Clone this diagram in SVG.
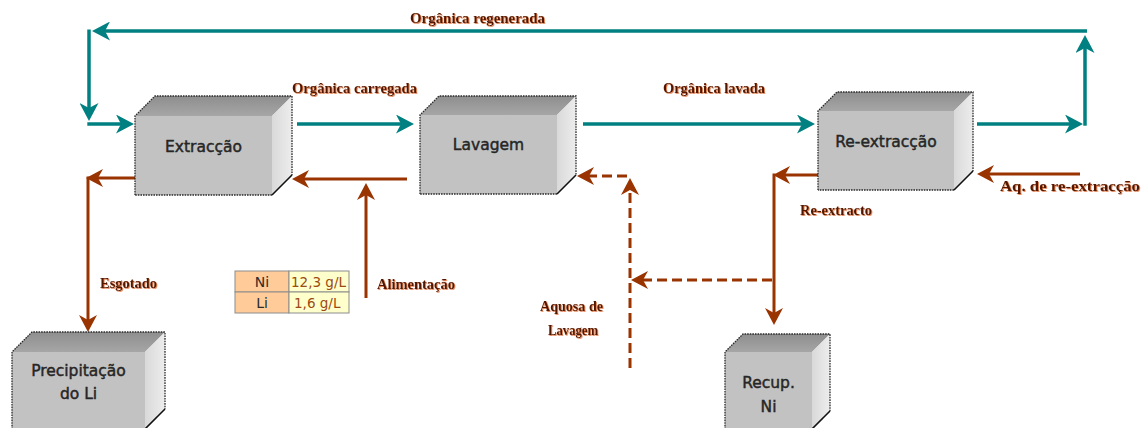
<svg xmlns="http://www.w3.org/2000/svg" width="1147" height="428" viewBox="0 0 1147 428">
  <defs>
    <style>
      .top { fill: url(#topShade); }
      .side { fill: url(#sideShade); }
      .front { fill: #c2c2c2; }
      .outline { fill: none; stroke: #2a2a2a; stroke-width: 1.3; stroke-dasharray: 1.6 1; }
      .edge { fill: none; stroke: #111; stroke-width: 1.6; }
      .boxText { font-family: "DejaVu Sans", Verdana, sans-serif; font-size: 15.5px; fill: #262626; stroke: #262626; stroke-width: 0.45; text-anchor: middle; }
      .teal { fill: none; stroke: #008080; stroke-width: 3.5; marker-end: url(#tealHead); }
      .brown { fill: none; stroke: #993300; stroke-width: 3; marker-end: url(#brownHead); }
      .dashed { stroke-dasharray: 10 5; }
      .label { font-family: "Liberation Serif", "Times New Roman", serif; font-weight: bold; font-size: 14px; fill: #521600; filter: url(#glow); }
      .cellKey { fill: #ffcc99; stroke: #8c8c8c; stroke-width: 1; }
      .cellVal { fill: #ffffcc; stroke: #8c8c8c; stroke-width: 1; }
      .keyText { font-family: "DejaVu Sans", Verdana, sans-serif; font-size: 14px; fill: #2b2b2b; text-anchor: middle; }
      .valText { font-family: "DejaVu Sans", Verdana, sans-serif; font-size: 13.5px; fill: #9a4a12; }
    </style>
    <linearGradient id="topShade" x1="0" y1="0" x2="0" y2="1">
      <stop offset="0" stop-color="#8e8e8e"/>
      <stop offset="1" stop-color="#a6a6a6"/>
    </linearGradient>
    <linearGradient id="sideShade" x1="0" y1="0" x2="1" y2="0">
      <stop offset="0" stop-color="#d9d9d9"/>
      <stop offset="1" stop-color="#ededed"/>
    </linearGradient>
    <filter id="glow" x="-5%" y="-30%" width="110%" height="160%">
      <feDropShadow dx="0.8" dy="0.8" stdDeviation="0.6" flood-color="#e0703a" flood-opacity="1"/>
    </filter>
    <marker id="tealHead" viewBox="0 0 18 19" refX="12" refY="9.5" markerWidth="18" markerHeight="19" markerUnits="userSpaceOnUse" orient="auto">
      <path d="M18,9.5 L0,0 L5,9.5 L0,19 Z" fill="#008080"/>
    </marker>
    <marker id="brownHead" viewBox="0 0 17 18" refX="11" refY="9" markerWidth="17" markerHeight="18" markerUnits="userSpaceOnUse" orient="auto">
      <path d="M17,9 L0,0 L5,9 L0,18 Z" fill="#993300"/>
    </marker>
  </defs>

  <rect width="1147" height="428" fill="#ffffff"/>

  <!-- flows between the units -->
  <g id="connectors">
    <!-- organic loop (teal) -->
    <path class="teal" d="M1087,31 H98"/>
    <path class="teal" d="M89,29.5 V115"/>
    <path class="teal" d="M87.3,124 H128"/>
    <path class="teal" d="M297,124 H408"/>
    <path class="teal" d="M583,124 H809"/>
    <path class="teal" d="M977,124 H1077"/>
    <path class="teal" d="M1085,125.7 V41"/>

    <!-- aqueous streams (brown) -->
    <path class="brown" d="M135,178 H92"/>
    <path class="brown" d="M88,176.5 V326"/>
    <path class="brown" d="M407,179 H298"/>
    <path class="brown" d="M366,298 V189"/>
    <path class="brown dashed" d="M627,176 H583"/>
    <path class="brown dashed" d="M630,368 V184"/>
    <path class="brown dashed" d="M772,280 H637"/>
    <path class="brown" d="M818,175 H779"/>
    <path class="brown" d="M774,173.5 V319"/>
    <path class="brown" d="M1080,174 H983"/>
  </g>

  <!-- stream labels -->
  <g id="labels">
    <text class="label" x="410" y="23" textLength="135" lengthAdjust="spacingAndGlyphs">Orgânica regenerada</text>
    <text class="label" x="292" y="93" textLength="125" lengthAdjust="spacingAndGlyphs">Orgânica carregada</text>
    <text class="label" x="663" y="93" textLength="102" lengthAdjust="spacingAndGlyphs">Orgânica lavada</text>
    <text class="label" x="100" y="288" textLength="57" lengthAdjust="spacingAndGlyphs">Esgotado</text>
    <text class="label" x="377" y="289" textLength="78" lengthAdjust="spacingAndGlyphs">Alimentação</text>
    <text class="label" x="540" y="311" textLength="63" lengthAdjust="spacingAndGlyphs">Aquosa de</text>
    <text class="label" x="548" y="335" textLength="50" lengthAdjust="spacingAndGlyphs">Lavagem</text>
    <text class="label" x="800" y="215" textLength="72" lengthAdjust="spacingAndGlyphs">Re-extracto</text>
    <text class="label" x="1000" y="191" textLength="140" lengthAdjust="spacingAndGlyphs">Aq. de re-extracção</text>
  </g>

  <!-- feed composition -->
  <g id="feed-table">
    <rect class="cellKey" x="235" y="271" width="54" height="21"/>
    <rect class="cellVal" x="289" y="271" width="60" height="21"/>
    <rect class="cellKey" x="235" y="292" width="54" height="21"/>
    <rect class="cellVal" x="289" y="292" width="60" height="21"/>
    <text class="keyText" x="262" y="287">Ni</text>
    <text class="valText" x="291" y="287">12,3 g/L</text>
    <text class="keyText" x="262" y="308">Li</text>
    <text class="valText" x="294" y="308">1,6 g/L</text>
  </g>

  <!-- process units drawn as blocks -->
  <g id="extraccao">
    <path class="top" d="M135,116 L155,96 L292,96 L272,116 Z"/>
    <path class="side" d="M272,116 L292,96 L292,175 L272,195 Z"/>
    <rect class="front" x="135" y="116" width="137" height="79"/>
    <path class="outline" d="M135,195 L135,116 L155,96 L292,96 L292,175"/>
    <path class="outline" d="M272,195 L135,195"/>
    <path class="edge" d="M292,175 L272,195"/>
    <text class="boxText" x="203.5" y="152">Extracção</text>
  </g>

  <g id="lavagem">
    <path class="top" d="M420,115 L439,96 L576,96 L557,115 Z"/>
    <path class="side" d="M557,115 L576,96 L576,175 L557,194 Z"/>
    <rect class="front" x="420" y="115" width="137" height="79"/>
    <path class="outline" d="M420,194 L420,115 L439,96 L576,96 L576,175"/>
    <path class="outline" d="M557,194 L420,194"/>
    <path class="edge" d="M576,175 L557,194"/>
    <text class="boxText" x="488.5" y="150">Lavagem</text>
  </g>

  <g id="re-extraccao">
    <path class="top" d="M818,111 L837,92 L973,92 L954,111 Z"/>
    <path class="side" d="M954,111 L973,92 L973,171 L954,190 Z"/>
    <rect class="front" x="818" y="111" width="136" height="79"/>
    <path class="outline" d="M818,190 L818,111 L837,92 L973,92 L973,171"/>
    <path class="outline" d="M954,190 L818,190"/>
    <path class="edge" d="M973,171 L954,190"/>
    <text class="boxText" x="886" y="147">Re-extracção</text>
  </g>

  <g id="precipitacao">
    <path class="top" d="M12,352 L32,332 L165,332 L145,352 Z"/>
    <path class="side" d="M145,352 L165,332 L165,409 L145,429 Z"/>
    <rect class="front" x="12" y="352" width="133" height="77"/>
    <path class="outline" d="M12,429 L12,352 L32,332 L165,332 L165,409"/>
    <path class="edge" d="M165,409 L145,429"/>
    <text class="boxText" x="78.5" y="376">Precipitação</text>
    <text class="boxText" x="78.5" y="399">do Li</text>
  </g>

  <g id="recup-ni">
    <path class="top" d="M725,352 L743,334 L830,334 L812,352 Z"/>
    <path class="side" d="M812,352 L830,334 L830,411 L812,429 Z"/>
    <rect class="front" x="725" y="352" width="87" height="77"/>
    <path class="outline" d="M725,429 L725,352 L743,334 L830,334 L830,411"/>
    <path class="edge" d="M830,411 L812,429"/>
    <text class="boxText" x="768.5" y="388">Recup.</text>
    <text class="boxText" x="768.5" y="412">Ni</text>
  </g>
</svg>
